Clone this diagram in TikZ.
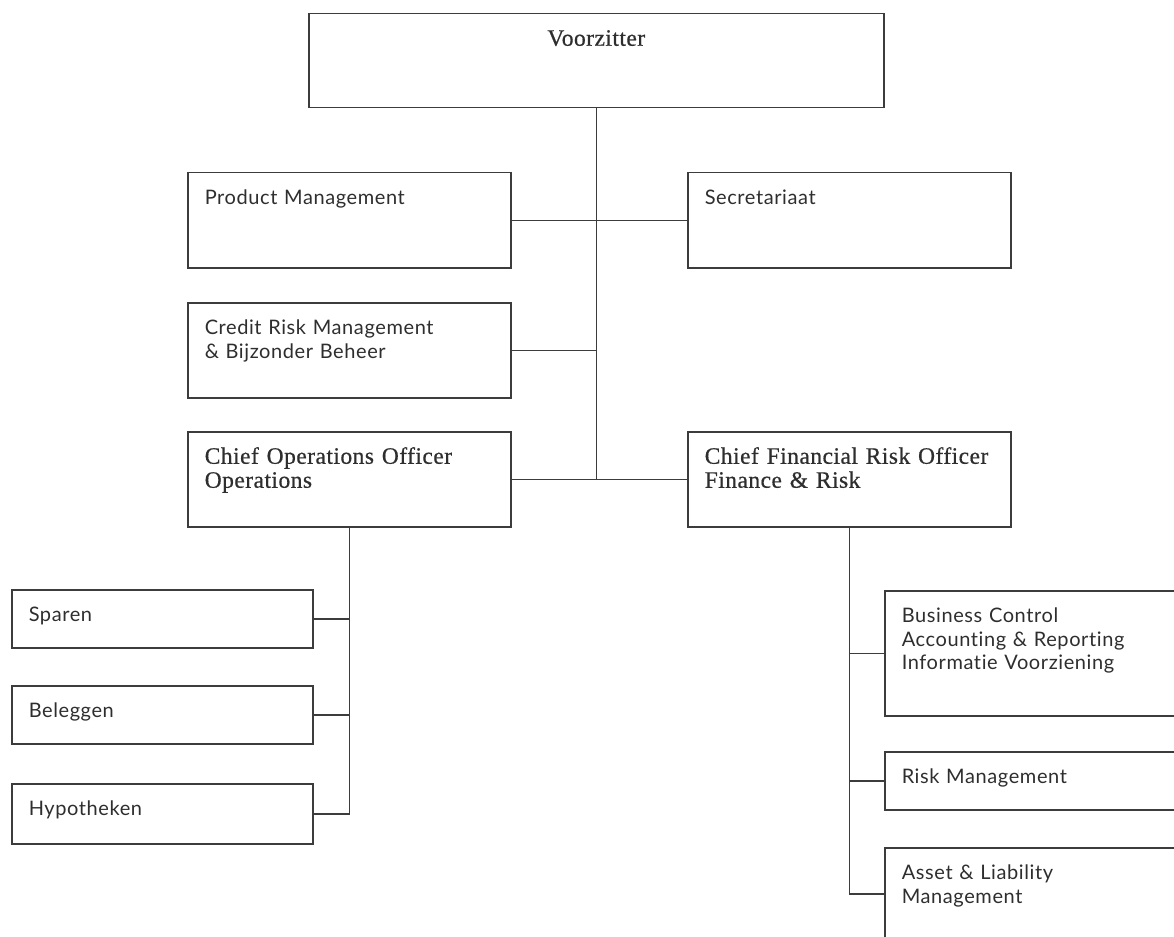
\documentclass[tikz,border=0pt]{standalone}
\usepackage{fontspec}
\setmainfont{Liberation Serif}
\newfontfamily\bodyfont[Ligatures=NoCommon, LetterSpace=3]{Lato}
\newfontfamily\headfont[FakeBold=0.6, LetterSpace=2]{Liberation Serif}
\definecolor{inkgray}{HTML}{2E2E2E}
\definecolor{linegray}{HTML}{3C3C3C}

\tikzset{
  orgbox/.style={draw=linegray, line width=1.5pt, anchor=north west,
                 inner xsep=17pt, inner ysep=0pt, align=left,
                 text=inkgray, text height=32pt,
                 font=\bodyfont\fontsize{20}{23.5}\selectfont},
  chief/.style={font=\headfont\fontsize{23.5}{24}\selectfont},
  wide/.style={text width=289pt},
  narrow/.style={text width=267pt},
  tall/.style={text depth=63pt},
  short/.style={text depth=26pt},
  link/.style={draw=linegray, line width=1.5pt}
}

\begin{document}
\begin{tikzpicture}[x=1pt, y=-1pt]
  \useasboundingbox (0,0) rectangle (1174,936);
  \clip (0,0) rectangle (1174,936);

  % board level
  \node[orgbox, chief, text width=541pt, align=center, text depth=62pt]
    (voorz) at (308,13) {Voorzitter};
  \node[orgbox, wide, tall] (prodm) at (187,172) {Product Management};
  \node[orgbox, wide, tall] (secr) at (687,172) {Secretariaat};
  \node[orgbox, wide, tall] (crm) at (187,302)
    {Credit Risk Management\\ \& Bijzonder Beheer};
  \node[orgbox, chief, wide, tall] (coo) at (187,431)
    {Chief Operations Officer\\ Operations};
  \node[orgbox, chief, wide, tall] (cfro) at (687,431)
    {Chief Financial Risk Officer\\ Finance \& Risk};

  % operations
  \node[orgbox, narrow, short] (sparen) at (11,589) {Sparen};
  \node[orgbox, narrow, short] (beleg) at (11,685) {Beleggen};
  \node[orgbox, narrow, short, text depth=28pt] (hypo) at (11,783) {Hypotheken};

  % finance & risk
  \node[orgbox, wide, text depth=93pt] (bcontrol) at (884,590)
    {Business Control\\ Accounting \& Reporting\\ Informatie Voorziening};
  \node[orgbox, wide, short] (riskm) at (884,751) {Risk Management};
  \node[orgbox, wide, text depth=60pt] (alm) at (884,847)
    {Asset \& Liability\\ Management};

  % connectors
  \draw[link] (voorz.south) -- (voorz.south |- coo.east);
  \draw[link] (prodm.east) -- (secr.west);
  \draw[link] (crm.east) -- (crm.east -| voorz.south);
  \draw[link] (coo.east) -- (cfro.west);

  \draw[link] (coo.south) -- (coo.south |- hypo.east) -- (hypo.east);
  \foreach \unit in {sparen, beleg}
    \draw[link] (\unit.east) -- (\unit.east -| coo.south);

  \draw[link] (cfro.south) -- (cfro.south |- alm.west) -- (alm.west);
  \foreach \unit in {bcontrol, riskm}
    \draw[link] (\unit.west) -- (\unit.west -| cfro.south);
\end{tikzpicture}
\end{document}
